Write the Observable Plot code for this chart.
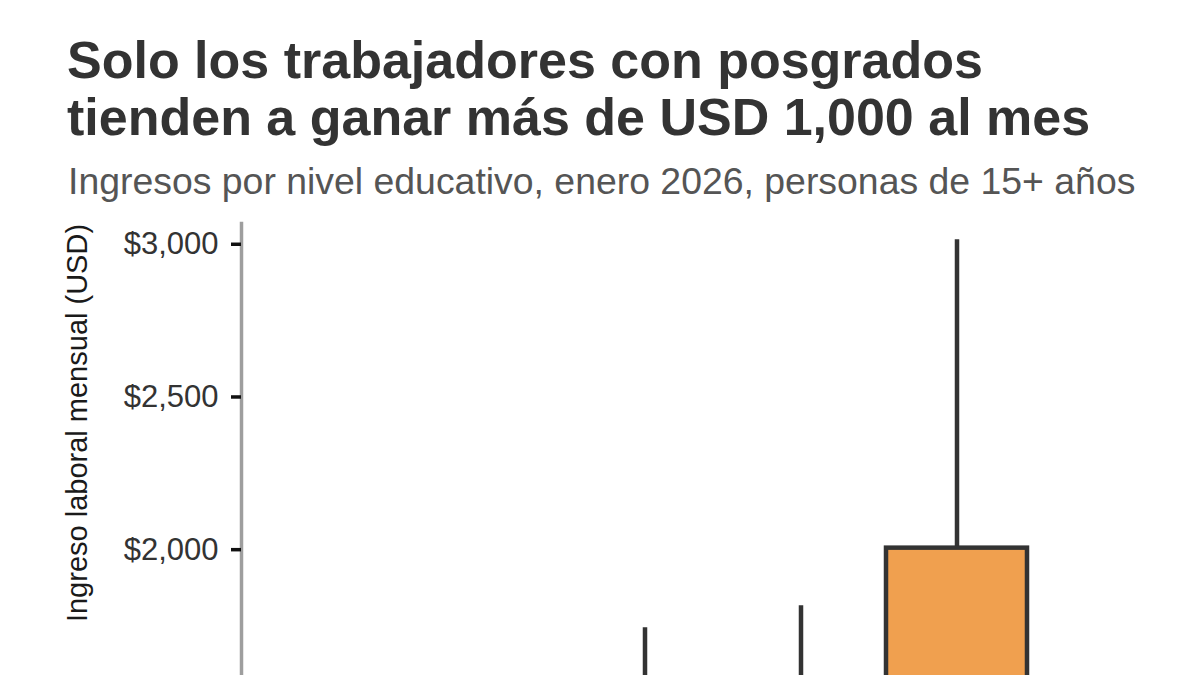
<!DOCTYPE html>
<html>
<head>
<meta charset="utf-8">
<script src="https://cdn.jsdelivr.net/npm/d3@7"></script>
<script src="https://cdn.jsdelivr.net/npm/@observablehq/plot@0.6"></script>
<style>
  html, body { margin: 0; padding: 0; background: #fff; width: 1200px; height: 675px; overflow: hidden; }
  #wrap { position: relative; width: 1200px; height: 675px; overflow: hidden; font-family: "Liberation Sans", Arial, sans-serif; }
  #title { position: absolute; left: 67px; top: 31.7px; font-size: 52px; font-weight: bold; line-height: 57.5px; color: #333; white-space: nowrap; }
  #subtitle { position: absolute; left: 68px; top: 163px; font-size: 37.4px; line-height: 37.4px; color: #555; white-space: nowrap; }
  #chart { position: absolute; left: 0; top: 0; }
</style>
</head>
<body>
<div id="wrap">
  <div id="chart"></div>
  <div id="title">Solo los trabajadores con posgrados<br>tienden a ganar más de USD 1,000 al mes</div>
  <div id="subtitle">Ingresos por nivel educativo, enero 2026, personas de 15+ años</div>
</div>
<script>
// Categories (education level) and box-plot summary statistics (USD per month)
const categories = ["Primaria", "Secundaria", "Técnico superior", "Universitario", "Posgrado"];
const whiskerLow  = [20, 40, 60, 60, 300];
const q1          = [250, 400, 500, 550, 1200];
const median      = [400, 520, 720, 800, 1500];
const q3          = [550, 800, 1000, 1100, 2005];
const whiskerHigh = [1000, 1400, 1744, 1816, 3015];
const highlight   = [false, false, false, false, true];
const yTicks      = [0, 500, 1000, 1500, 2000, 2500, 3000];
const yLabel      = "Ingreso laboral mensual (USD)";

const rows = categories.map((c, i) => ({
  cat: c, lo: whiskerLow[i], q1: q1[i], med: median[i], q3: q3[i], hi: whiskerHigh[i], hl: highlight[i]
}));

const fmt = d3.format("$,");

const plot = Plot.plot({
  width: 1200,
  height: 1230,
  marginTop: 223,
  marginBottom: 70,
  marginLeft: 241,
  marginRight: 149,
  style: { fontFamily: "'Liberation Sans', Arial, sans-serif", fontSize: "31px", background: "transparent", overflow: "visible" },
  x: { domain: categories, padding: 0.095, insetLeft: 5, insetRight: 8.5, label: null },
  y: { domain: [0, 3068], label: null },
  marks: [
    Plot.frame({ anchor: "left", stroke: "#9e9e9e", strokeWidth: 3.5 }),
    Plot.ruleX(rows, { x: "cat", y1: "lo", y2: "hi", stroke: "#333", strokeWidth: 4.5 }),
    Plot.barY(rows, { x: "cat", y1: "q1", y2: "q3", fill: d => d.hl ? "#F0A04F" : "#c8c8c8", stroke: "#333", strokeWidth: 4.5 }),
    Plot.tickY(rows, { x: "cat", y: "med", stroke: "#333", strokeWidth: 4.5 }),
    Plot.axisY({ ticks: yTicks, tickFormat: fmt, tickSize: 10, tickPadding: 13, stroke: "#111", strokeWidth: 3.5, fill: "#333", label: null }),
    Plot.axisX({ tickSize: 0, tickPadding: 12, fill: "#333", fontSize: 24, label: null })
  ]
});

document.getElementById("chart").appendChild(plot);

d3.select(plot).append("text")
  .attr("transform", "translate(86.7,423) rotate(-90)")
  .attr("text-anchor", "middle")
  .attr("font-family", "'Liberation Sans', Arial, sans-serif")
  .attr("font-size", 29)
  .attr("fill", "#1a1a1a")
  .text(yLabel);
</script>
</body>
</html>
